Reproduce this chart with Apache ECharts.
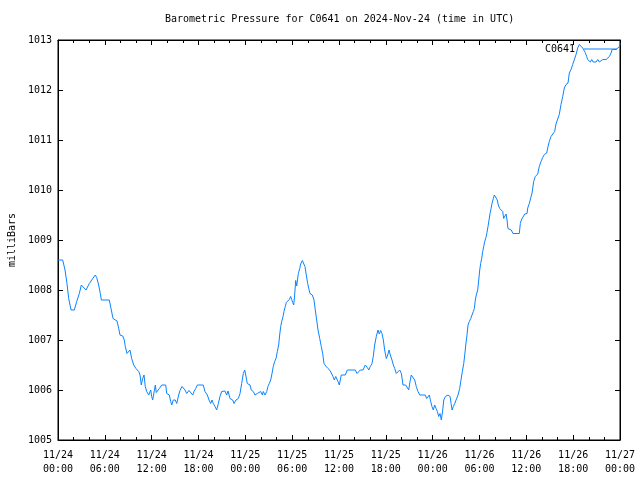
<!DOCTYPE html>
<html>
<head>
<meta charset="utf-8">
<script src="https://cdn.jsdelivr.net/npm/echarts@6/dist/echarts.min.js"></script>
<style>html,body{margin:0;padding:0;background:#fff}#c{width:640px;height:480px}</style>
</head>
<body>
<div id="c"></div>
<script>
// hours since 2024-11-24 00:00 UTC
var hours = [
0,0.60,0.90,1.15,1.37,1.67,2.09,2.40,2.73,2.99,3.24,3.59,3.78,4.01,4.32,4.52,4.78,4.96,5.21,5.42,5.55,6.57,6.83,7.05,7.26,7.56,7.78,7.94,8.29,8.49,8.62,8.84,9.01,9.22,9.44,9.70,9.99,10.34,10.51,10.67,10.85,11.02,11.18,11.36,11.62,11.88,12.00,
12.13,12.34,12.47,12.59,12.72,12.98,13.29,13.80,13.93,14.13,14.26,14.44,14.57,14.77,15.03,15.21,15.46,15.63,15.89,16.05,16.27,16.49,16.78,17.00,17.26,17.42,17.64,17.85,18.61,18.83,18.96,19.13,19.35,19.56,19.73,19.90,20.11,20.33,20.54,20.75,20.97,21.18,21.39,21.61,21.78,22.04,22.38,22.55,22.80,23.10,23.32,23.53,23.74,23.92,
24.05,24.25,24.43,24.60,24.76,25.02,25.24,25.53,25.75,25.97,26.18,26.30,26.52,26.74,26.90,27.07,27.25,27.42,27.58,27.76,27.93,28.10,28.27,28.40,28.53,28.66,28.83,28.95,29.12,29.25,29.43,29.63,29.81,29.94,30.07,30.20,30.32,30.45,30.58,30.66,30.79,30.97,31.09,31.30,31.52,31.64,31.81,31.99,32.16,32.28,32.58,32.80,32.96,33.14,33.31,33.53,33.73,33.91,34.08,34.30,34.59,34.85,35.07,35.23,35.40,35.58,35.74,35.87,36.04,
36.17,36.29,36.81,37.06,38.09,38.31,38.52,38.73,39.08,39.37,39.63,39.81,40.01,40.23,40.39,40.57,40.78,40.99,41.16,41.34,41.51,41.68,41.85,42.06,42.24,42.41,42.57,42.79,42.96,43.14,43.34,43.56,43.78,43.99,44.20,44.55,44.72,44.93,45.10,45.26,45.48,45.70,45.90,46.12,46.34,47.05,47.23,47.40,47.57,47.75,47.91,48.08,
48.26,48.43,48.60,48.77,48.94,49.11,49.29,49.42,49.63,49.97,50.23,50.36,50.49,50.65,50.83,51.00,51.25,51.46,51.63,51.80,51.98,52.11,52.24,52.40,52.53,52.70,52.88,53.04,53.21,53.34,53.46,53.59,53.77,53.90,54.03,54.15,54.28,54.41,54.54,54.67,54.83,54.96,55.09,55.22,55.35,55.48,55.60,55.77,55.90,56.12,56.28,56.41,56.59,56.80,56.97,57.10,57.23,57.40,57.53,57.64,57.86,58.07,58.29,59.10,59.23,59.36,59.58,59.79,60.09,
60.18,60.38,60.60,60.73,60.94,61.15,61.46,61.66,61.88,62.10,62.30,62.61,62.78,62.94,63.16,63.38,63.63,63.80,64.02,64.22,64.44,64.66,64.87,65.08,65.34,65.51,65.73,65.94,66.15,66.37,66.58,66.79,67.01,67.22,67.43,67.55,67.73,67.86,68.07,68.20,68.38,68.55,68.71,68.93,69.15,69.36,69.57,69.79,70.22,70.64,70.86,70.99,71.50,71.72,71.93,72.0
];
var pressure = [
1008.6,1008.6,1008.4,1008.13,1007.83,1007.6,1007.6,1007.77,1007.93,1008.1,1008.1,1008.0,1008.0,1008.13,1008.2,1008.2,1008.3,1008.25,1008.1,1007.93,1007.8,1007.8,1007.6,1007.43,1007.4,1007.38,1007.23,1007.1,1007.08,1007.0,1006.87,1006.73,1006.7,1006.8,1006.63,1006.5,1006.43,1006.37,1006.3,1006.1,1006.23,1006.3,1006.07,1005.97,1005.9,1006.0,1005.87,
1005.8,1005.8,1006.1,1005.95,1005.93,1006.03,1006.1,1006.1,1005.93,1005.97,1005.9,1005.77,1005.7,1005.8,1005.8,1005.73,1005.9,1005.99,1006.07,1006.1,1006.0,1005.93,1005.99,1005.97,1005.9,1005.97,1006.03,1006.1,1006.1,1005.97,1006.0,1005.9,1005.8,1005.73,1005.8,1005.73,1005.67,1005.6,1005.73,1005.87,1005.97,1005.93,1005.98,1005.9,1005.98,1005.83,1005.8,1005.73,1005.8,1005.83,1005.93,1006.13,1006.33,1006.4,
1006.3,1006.13,1006.17,1006.1,1006.0,1005.97,1005.9,1005.93,1005.9,1005.97,1005.9,1005.97,1005.9,1005.97,1006.07,1006.13,1006.2,1006.33,1006.47,1006.57,1006.63,1006.77,1006.9,1007.1,1007.27,1007.37,1007.47,1007.57,1007.67,1007.75,1007.79,1007.81,1007.87,1007.81,1007.75,1007.7,1007.9,1008.19,1008.08,1008.12,1008.33,1008.43,1008.52,1008.59,1008.59,1008.47,1008.3,1008.13,1008.01,1007.93,1007.9,1007.8,1007.6,1007.4,1007.2,1007.03,1006.87,1006.73,1006.53,1006.48,1006.43,1006.39,1006.35,1006.27,1006.2,1006.27,1006.3,1006.17,1006.1,
1006.1,1006.3,1006.3,1006.4,1006.4,1006.33,1006.3,1006.4,1006.4,1006.5,1006.45,1006.4,1006.47,1006.53,1006.67,1006.9,1007.07,1007.2,1007.12,1007.19,1007.13,1007.0,1006.8,1006.63,1006.7,1006.8,1006.7,1006.6,1006.5,1006.43,1006.33,1006.3,1006.4,1006.33,1006.1,1006.1,1006.07,1006.0,1006.17,1006.3,1006.27,1006.2,1006.07,1005.97,1005.9,1005.9,1005.83,1005.87,1005.9,1005.77,1005.67,1005.6,
1005.7,1005.63,1005.57,1005.47,1005.53,1005.4,1005.6,1005.8,1005.87,1005.9,1005.87,1005.73,1005.6,1005.67,1005.73,1005.8,1005.9,1006.03,1006.2,1006.37,1006.53,1006.7,1006.9,1007.1,1007.3,1007.37,1007.43,1007.5,1007.57,1007.63,1007.8,1007.9,1008.0,1008.2,1008.4,1008.53,1008.63,1008.77,1008.87,1008.97,1009.05,1009.15,1009.27,1009.4,1009.53,1009.63,1009.73,1009.83,1009.9,1009.9,1009.8,1009.7,1009.63,1009.62,1009.57,1009.43,1009.47,1009.52,1009.4,1009.23,1009.2,1009.2,1009.13,1009.13,1009.33,1009.4,1009.43,1009.52,1009.53,
1009.64,1009.73,1009.73,1009.94,1010.17,1010.27,1010.32,1010.47,1010.57,1010.65,1010.71,1010.74,1010.87,1010.97,1011.07,1011.11,1011.17,1011.32,1011.33,1011.51,1011.71,1011.87,1012.04,1012.11,1012.14,1012.34,1012.41,1012.51,1012.54,1012.71,1012.84,1012.91,1012.92,1012.84,1012.81,1012.75,1012.67,1012.61,1012.61,1012.56,1012.61,1012.56,1012.53,1012.56,1012.61,1012.56,1012.53,1012.61,1012.61,1012.67,1012.74,1012.81,1012.81,1012.83,1012.87,1012.94
];
var startDay = 24;
var titleText = 'Barometric Pressure for C0641 on 2024-Nov-24 (time in UTC)';
var seriesName = 'C0641';
var yName = 'milliBars';

var data = hours.map(function(h, i){ return [h, pressure[i]]; });
var FONT = '"DejaVu Sans Mono", "Liberation Mono", monospace';
function xLabel(v){
  var d = startDay + Math.floor(v / 24);
  var hh = Math.round(v % 24);
  return '11/' + d + '\n' + (hh < 10 ? '0' : '') + hh + ':00';
}
var chart = echarts.init(document.getElementById('c'), null, {renderer:'canvas'});
var axisLine = {show:true, onZero:false, lineStyle:{color:'#000', width:1}};
var majorTick = {show:true, inside:true, length:5, lineStyle:{color:'#000'}};
var minorTick = {show:true, splitNumber:3, length:3, lineStyle:{color:'#000'}};
chart.setOption({
  animation:false,
  backgroundColor:'#fff',
  title:{text:titleText, left:165, top:14, padding:0,
    textStyle:{fontFamily:FONT, fontSize:10, fontWeight:'normal', color:'#000'}},
  legend:{right:23, top:44, padding:0, align:'right', itemWidth:33, itemHeight:10, itemGap:0,
    textStyle:{fontFamily:FONT, fontSize:10, color:'#000', padding:[0,4,0,0]},
    data:[{name:seriesName, icon:'path://M0,5 L33,5 L33,6 L0,6 Z'}]},
  grid:{left:58, right:20, top:40, bottom:40, show:true, borderColor:'#000', borderWidth:1,
    backgroundColor:'transparent', containLabel:false, outerBoundsMode:'none'},
  xAxis:[{type:'value', min:0, max:72, interval:6, position:'bottom',
    axisLine:axisLine, splitLine:{show:false}, axisTick:majorTick, minorTick:minorTick,
    axisLabel:{formatter:xLabel, fontFamily:FONT, fontSize:10, color:'#000', margin:8, lineHeight:14}},
   {type:'value', min:0, max:72, interval:6, position:'top',
    axisLine:axisLine, splitLine:{show:false}, axisTick:majorTick, minorTick:minorTick,
    axisLabel:{show:false}}],
  yAxis:[{type:'value', min:1005, max:1013, interval:1, position:'left',
    name:yName, nameLocation:'middle', nameGap:40, nameRotate:90,
    nameTextStyle:{fontFamily:FONT, fontSize:10, color:'#000'},
    axisLine:axisLine, splitLine:{show:false}, axisTick:majorTick,
    axisLabel:{fontFamily:FONT, fontSize:10, color:'#000', margin:6,
      formatter:function(v){ return String(v); }}},
   {type:'value', min:1005, max:1013, interval:1, position:'right',
    axisLine:axisLine, splitLine:{show:false}, axisTick:majorTick,
    axisLabel:{show:false}}],
  series:[{name:seriesName, type:'line', xAxisIndex:0, yAxisIndex:0, data:data,
    symbol:'none', showSymbol:false, lineStyle:{color:'#0a84ff', width:1}, itemStyle:{color:'#0a84ff'}}]
});
</script>
</body>
</html>
